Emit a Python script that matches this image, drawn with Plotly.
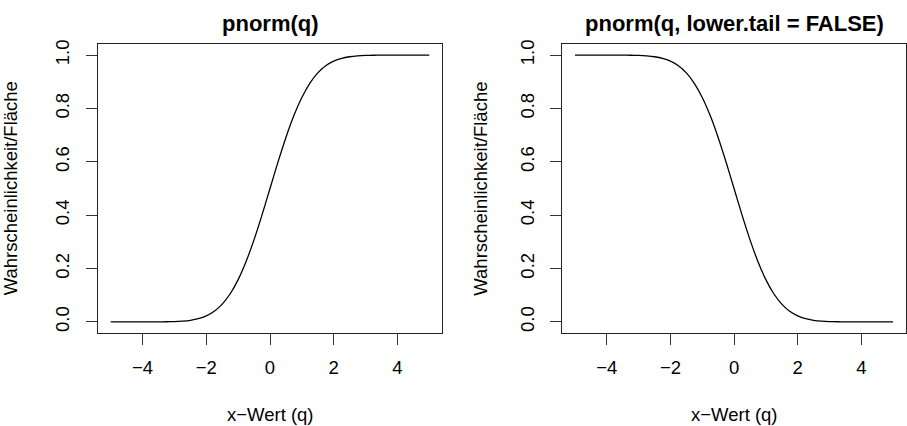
import plotly.graph_objects as go

# Quantiles (x) and probabilities
q_values = [-5.0, -4.75, -4.5, -4.25, -4.0, -3.75, -3.5, -3.25, -3.0, -2.75,
            -2.5, -2.25, -2.0, -1.75, -1.5, -1.25, -1.0, -0.75, -0.5, -0.25,
            0.0, 0.25, 0.5, 0.75, 1.0, 1.25, 1.5, 1.75, 2.0, 2.25,
            2.5, 2.75, 3.0, 3.25, 3.5, 3.75, 4.0, 4.25, 4.5, 4.75, 5.0]
p_lower = [0.0, 0.0, 0.0, 0.0, 0.0, 0.0001, 0.0002, 0.0006, 0.0013, 0.003,
           0.0062, 0.0122, 0.0228, 0.0401, 0.0668, 0.1056, 0.1587, 0.2266, 0.3085, 0.4013,
           0.5, 0.5987, 0.6915, 0.7734, 0.8413, 0.8944, 0.9332, 0.9599, 0.9772, 0.9878,
           0.9938, 0.997, 0.9987, 0.9994, 0.9998, 0.9999, 1.0, 1.0, 1.0, 1.0, 1.0]
p_upper = [1.0, 1.0, 1.0, 1.0, 1.0, 0.9999, 0.9998, 0.9994, 0.9987, 0.997,
           0.9938, 0.9878, 0.9772, 0.9599, 0.9332, 0.8944, 0.8413, 0.7734, 0.6915, 0.5987,
           0.5, 0.4013, 0.3085, 0.2266, 0.1587, 0.1056, 0.0668, 0.0401, 0.0228, 0.0122,
           0.0062, 0.003, 0.0013, 0.0006, 0.0002, 0.0001, 0.0, 0.0, 0.0, 0.0, 0.0]

x_ticks = [-4, -2, 0, 2, 4]
y_ticks = [0.0, 0.2, 0.4, 0.6, 0.8, 1.0]
panel_titles = ["pnorm(q)", "pnorm(q, lower.tail = FALSE)"]
x_label = "x\u2212Wert (q)"
y_label = "Wahrscheinlichkeit/Fläche"

W, H = 907, 426
FONT = "Liberation Sans, Arial, Helvetica, sans-serif"
FS = 18.5

fig = go.Figure()
fig.add_trace(go.Scatter(x=q_values, y=p_lower, mode="lines",
                         line=dict(color="black", width=1.3, shape="spline", smoothing=0.6),
                         xaxis="x", yaxis="y", showlegend=False, hoverinfo="skip"))
fig.add_trace(go.Scatter(x=q_values, y=p_upper, mode="lines",
                         line=dict(color="black", width=1.3, shape="spline", smoothing=0.6),
                         xaxis="x2", yaxis="y2", showlegend=False, hoverinfo="skip"))

box_top, box_bot = 39.9, 331.5
left_box = (98.0, 442.0)
right_box = (562.3, 905.8)
ydom = [1 - box_bot / H, 1 - box_top / H]

common_x = dict(range=[-5.4, 5.4], tickvals=x_ticks, ticks="outside", ticklen=11,
                tickwidth=1, tickcolor="#333", showline=True, linecolor="#222",
                linewidth=1.3, mirror=True, showgrid=False, zeroline=False,
                tickfont=dict(family=FONT, size=FS, color="black"),
                ticklabelstandoff=7)
common_y = dict(range=[-0.04, 1.04], tickvals=y_ticks, tickformat=".1f", ticks="outside",
                ticklen=11, tickwidth=1, tickcolor="#333", showline=True, linecolor="#222",
                linewidth=1.3, mirror=True, showgrid=False, zeroline=False,
                tickangle=-90, tickfont=dict(family=FONT, size=FS, color="black"),
                ticklabelstandoff=9)

fig.update_layout(
    width=W, height=H,
    margin=dict(l=0, r=0, t=0, b=0),
    paper_bgcolor="white", plot_bgcolor="white",
    xaxis=dict(domain=[left_box[0] / W, left_box[1] / W], anchor="y", **common_x),
    yaxis=dict(domain=ydom, anchor="x", **common_y),
    xaxis2=dict(domain=[right_box[0] / W, right_box[1] / W], anchor="y2", **common_x),
    yaxis2=dict(domain=ydom, anchor="x2", **common_y),
)

annotations = []
centers = [(left_box[0] + left_box[1]) / 2, (right_box[0] + right_box[1]) / 2]
ylab_x = [10.8, 480.2]
for i in range(2):
    annotations.append(dict(text="<b>%s</b>" % panel_titles[i], x=centers[i] / W, y=1 - 19 / H,
                            xref="paper", yref="paper", xanchor="center", yanchor="middle",
                            showarrow=False, font=dict(family=FONT, size=22, color="black")))
    annotations.append(dict(text=x_label, x=centers[i] / W, y=1 - 414.5 / H,
                            xref="paper", yref="paper", xanchor="center", yanchor="middle",
                            showarrow=False, font=dict(family=FONT, size=FS, color="black")))
    annotations.append(dict(text=y_label, x=ylab_x[i] / W, y=1 - ((box_top + box_bot) / 2) / H,
                            xref="paper", yref="paper", xanchor="center", yanchor="middle",
                            textangle=-90, showarrow=False,
                            font=dict(family=FONT, size=FS, color="black")))
fig.update_layout(annotations=annotations)

fig.write_html("out.html", config={"displayModeBar": False},
               post_script="document.body.style.margin='0';document.body.style.padding='0';")
